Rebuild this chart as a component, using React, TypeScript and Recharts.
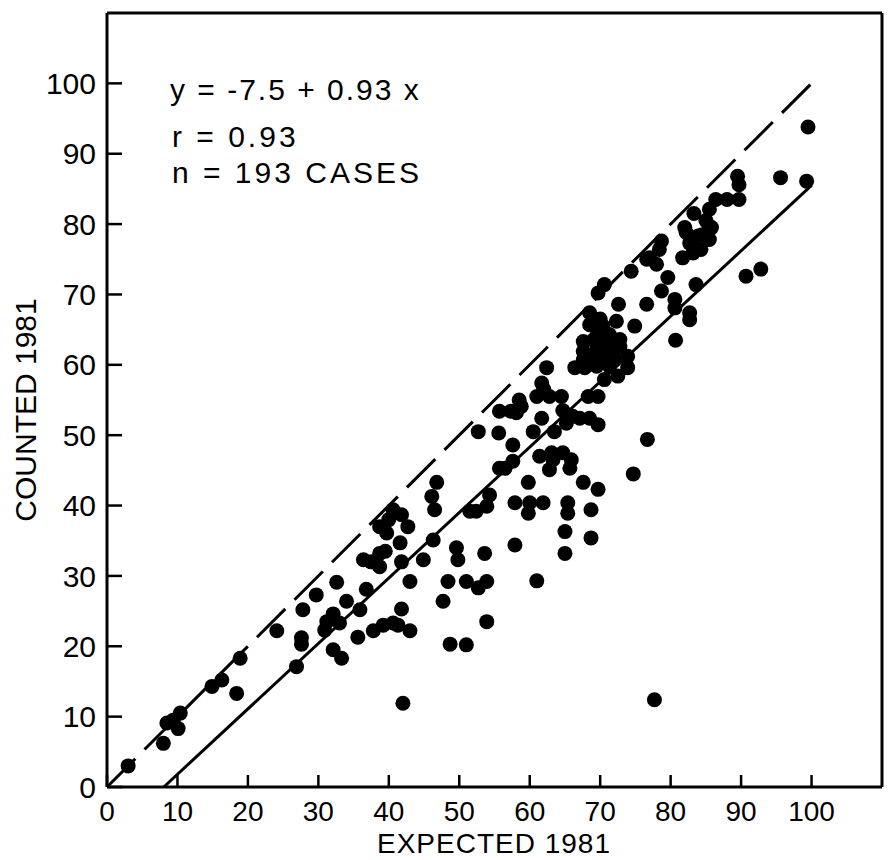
import { ScatterChart, Scatter, XAxis, YAxis, ReferenceLine } from 'recharts'

const FONT = '"Liberation Sans", Arial, sans-serif'
const INK = '#000'

// axis ticks
const xTicks = [0, 10, 20, 30, 40, 50, 60, 70, 80, 90, 100]
const yTicks = [0, 10, 20, 30, 40, 50, 60, 70, 80, 90, 100]
const frameTicks = [10, 20, 30, 40, 50, 60, 70, 80, 90, 100]

// expected vs counted, 1981
const expected1981 = [
  3, 8, 8.5, 9.4, 10.4, 10.1, 14.9, 16.3, 18.4, 18.9,
  24.1, 26.9, 27.6, 27.6, 27.8, 29.7, 30.9, 31.2, 32.1, 33,
  32.6, 32.1, 33.3, 34, 35.9, 35.6, 36.8, 36.4, 37.5, 38.7,
  38.7, 38.7, 39.7, 40.6, 41.8, 42.7, 41.6, 41.8, 41.8, 37.8,
  39.2, 40.6, 41.3, 43, 43, 44.9, 42, 46.8, 46.1, 46.5,
  46.3, 47.7, 48.4, 48.7, 51, 51, 52.7, 53.9, 53.9, 49.6,
  49.8, 53.6, 51.5, 52.4, 53.9, 54.3, 52.7, 55.6, 55.7, 57.3,
  58.8, 57.6, 57.6, 56.5, 55.7, 57.9, 59.8, 60, 61.9, 59.8,
  57.9, 61, 65, 65, 65.4, 65.4, 68.7, 68.7, 67.6, 69.7,
  61.4, 63.1, 64.7, 65.9, 65.7, 62.8, 60.5, 63.5, 65.2, 67.1,
  68.5, 69.7, 61.7, 61, 62.8, 64.5, 68.3, 69.7, 61.7, 62.4,
  66.4, 67.8, 69.5, 71.3, 67.6, 67.6, 67.6, 69.5, 71.3, 72.8,
  73.9, 73.9, 72.5, 69.5, 71.3, 72.8, 68.5, 70.4, 72.3, 74.9,
  68.5, 72.6, 69.7, 70.6, 74.4, 76.6, 76.6, 77, 78, 78.4,
  78.7, 79.6, 78.7, 80.6, 80.6, 80.7, 82.7, 82.7, 83.6, 81.7,
  83.2, 84.3, 82.7, 83.9, 85.5, 82.2, 85.8, 82, 83.3, 85.5,
  86.4, 88, 89.7, 89.7, 89.5, 95.6, 99.3, 99.5, 90.7, 92.8,
  76.7, 74.7, 77.7, 85.5, 58.1, 63.3, 66.1, 70.6, 64.7, 70.2,
  68.5, 70.5, 71, 69, 72, 70, 84.5, 83, 85, 62, 58.5, 40, 39.5,
]
const counted1981 = [
  3, 6.2, 9.1, 9.5, 10.5, 8.3, 14.3, 15.2, 13.3, 18.3,
  22.2, 17.1, 21.2, 20.3, 25.2, 27.3, 22.3, 23.5, 24.6, 23.3,
  29.1, 19.5, 18.3, 26.4, 25.2, 21.3, 28.1, 32.3, 32, 33.2,
  31.3, 37, 36.1, 39.4, 38.7, 37, 34.7, 32, 25.3, 22.2,
  23, 23.3, 23, 22.2, 29.2, 32.3, 11.9, 43.3, 41.3, 39.4,
  35.1, 26.4, 29.2, 20.3, 20.2, 29.2, 28.3, 29.2, 23.5, 34,
  32.3, 33.2, 39.2, 39.2, 39.9, 41.5, 50.5, 50.3, 53.4, 53.4,
  54.1, 48.6, 46.3, 45.3, 45.3, 40.4, 38.9, 40.4, 40.4, 43.3,
  34.4, 29.3, 36.3, 33.2, 40.4, 38.9, 39.4, 35.4, 43.3, 42.3,
  47, 47.5, 47.5, 46.5, 45.3, 45.1, 50.5, 50.5, 51.7, 52.4,
  52.4, 51.5, 52.4, 55.5, 55.5, 55.5, 55.5, 55.5, 57.4, 59.6,
  59.6, 59.6, 59.8, 59.8, 60.7, 61.9, 63.3, 62.2, 61.9, 62.6,
  61.2, 59.6, 58.4, 64.1, 64.3, 63.6, 65.7, 65.5, 66.2, 65.5,
  67.4, 68.6, 70.2, 71.4, 73.3, 68.6, 75, 75.2, 74.3, 76.4,
  77.6, 72.4, 70.5, 69.3, 68.1, 63.5, 67.4, 66.4, 71.4, 75.2,
  75.9, 76.4, 77.3, 78.3, 77.8, 78.8, 79.5, 79.5, 81.5, 82.1,
  83.5, 83.5, 83.5, 85.6, 86.8, 86.6, 86.1, 93.8, 72.6, 73.6,
  49.4, 44.5, 12.4, 79.7, 53.2, 46.5, 52.7, 57.9, 53.5, 60.8,
  61, 60.5, 63, 63.5, 61, 66.5, 78.5, 77, 80.5, 56.5, 55, 38, 33.5,
]

// 1:1 line and fitted line y = -7.5 + 0.93x
const parityX = [0, 100]
const parityY = [0, 100]
const fitX = [8.06, 100]
const fitY = [0, 85.5]

const points = expected1981.map((x, i) => ({ x, y: counted1981[i] }))

const Dot = (p: any) => <circle cx={p.cx} cy={p.cy} r={7.5} fill={INK} />

const axisLine = { stroke: INK, strokeWidth: 3 }
const tickLine = { stroke: INK, strokeWidth: 2.5 }
const tickFont = { fontSize: 30, fill: INK, fontFamily: FONT }
const xTickFont = { fontSize: 28, fill: INK, fontFamily: FONT }

export default function App() {
  return (
    <div style={{ position: 'absolute', left: 0, top: 0, width: 888, height: 860, background: '#fff' }}>
      <ScatterChart width={888} height={860} margin={{ top: 12, right: 5, bottom: 0, left: 0 }}>
        <XAxis
          type="number"
          dataKey="x"
          domain={[0, 110]}
          ticks={xTicks}
          interval={0}
          height={73}
          tickSize={-12}
          tickMargin={26}
          axisLine={axisLine}
          tickLine={tickLine}
          tick={xTickFont}
        />
        <XAxis
          xAxisId="top"
          orientation="top"
          type="number"
          domain={[0, 110]}
          ticks={frameTicks}
          interval={0}
          height={1}
          tickSize={-15}
          axisLine={axisLine}
          tickLine={tickLine}
          tick={false}
        />
        <YAxis
          type="number"
          dataKey="y"
          domain={[0, 110]}
          ticks={yTicks}
          interval={0}
          width={107}
          tickSize={-15}
          tickMargin={26}
          axisLine={axisLine}
          tickLine={tickLine}
          tick={tickFont}
        />
        <YAxis
          yAxisId="right"
          orientation="right"
          type="number"
          domain={[0, 110]}
          ticks={frameTicks}
          interval={0}
          width={1}
          tickSize={-15}
          axisLine={axisLine}
          tickLine={tickLine}
          tick={false}
        />
        <ReferenceLine
          segment={[{ x: parityX[0], y: parityY[0] }, { x: parityX[1], y: parityY[1] }]}
          stroke={INK}
          strokeWidth={3}
          strokeDasharray="40 13"
          ifOverflow="visible"
        />
        <ReferenceLine
          segment={[{ x: fitX[0], y: fitY[0] }, { x: fitX[1], y: fitY[1] }]}
          stroke={INK}
          strokeWidth={3}
          ifOverflow="visible"
        />
        <Scatter data={points} shape={Dot} isAnimationActive={false} />
      </ScatterChart>

      <svg
        width={888}
        height={860}
        style={{ position: 'absolute', left: 0, top: 0, pointerEvents: 'none' }}
        fontFamily={FONT}
        fontSize={30}
        fill={INK}
      >
        <text x={170} y={100} letterSpacing={2} style={{ whiteSpace: 'pre' }}>y = -7.5 + 0.93 x</text>
        <text x={172} y={147} letterSpacing={3} style={{ whiteSpace: 'pre' }}>r = 0.93</text>
        <text x={172} y={183} letterSpacing={3} style={{ whiteSpace: 'pre' }}>n = 193 CASES</text>
        <text x={494} y={853} textAnchor="middle" fontSize={28} letterSpacing={1}>EXPECTED 1981</text>
        <text x={36} y={410} textAnchor="middle" transform="rotate(-90 36 410)">COUNTED 1981</text>
      </svg>
    </div>
  )
}
